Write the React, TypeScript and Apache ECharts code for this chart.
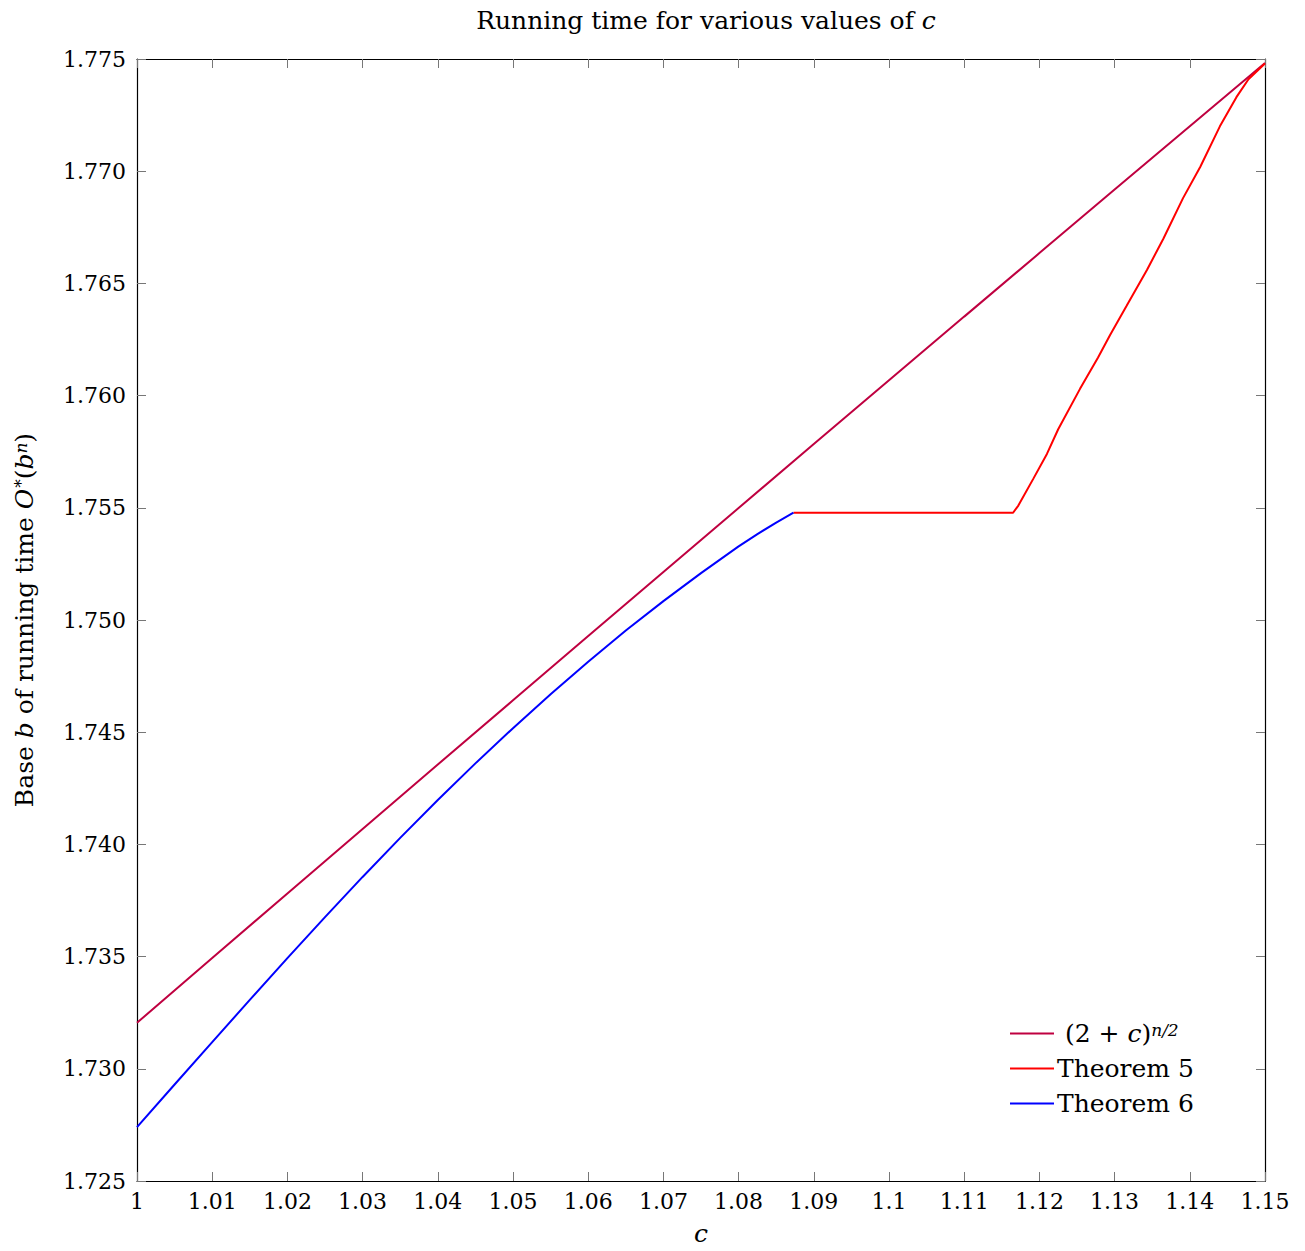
import React, { useEffect, useRef } from "react";
import * as echarts from "echarts";

// (2 + c)^{n/2} base values
const baseC = [1.0, 1.01, 1.02, 1.03, 1.04, 1.05, 1.06, 1.07, 1.08, 1.09, 1.1, 1.11, 1.12, 1.13, 1.14, 1.15];
const baseB = [1.73205, 1.73494, 1.73781, 1.74069, 1.74356, 1.74642, 1.74929, 1.75214, 1.75499, 1.75784, 1.76068, 1.76352, 1.76635, 1.76918, 1.772, 1.77482];

// Theorem 5
const thm5C = [1.0873, 1.1165, 1.1172, 1.1192, 1.121, 1.1225, 1.1254, 1.1278, 1.1294, 1.1316, 1.1343, 1.1365, 1.1391, 1.1414, 1.144, 1.1462, 1.1478, 1.15];
const thm5B = [1.75478, 1.75478, 1.7551, 1.7563, 1.7574, 1.7585, 1.7603, 1.7617, 1.7627, 1.764, 1.7656, 1.767, 1.7688, 1.7702, 1.772, 1.7733, 1.7741, 1.7748];

// Theorem 6
const thm6C = [1.0, 1.005, 1.01, 1.015, 1.02, 1.025, 1.03, 1.035, 1.04, 1.045, 1.05, 1.055, 1.06, 1.065, 1.07, 1.075, 1.08, 1.0825, 1.085, 1.0873];
const thm6B = [1.7274, 1.7293, 1.73119, 1.73307, 1.73493, 1.73676, 1.73855, 1.74029, 1.74198, 1.74361, 1.74518, 1.74669, 1.74814, 1.74953, 1.75084, 1.75209, 1.75328, 1.75383, 1.75434, 1.75478];

const seriesNames = ["(2 + c)^{n/2}", "Theorem 5", "Theorem 6"];
const seriesColors = ["#bf0040", "#ff0000", "#0000ff"];

const X_MIN = 1;
const X_MAX = 1.15;
const X_STEP = 0.01;
const Y_MIN = 1.725;
const Y_MAX = 1.775;
const Y_STEP = 0.005;

const FONT = "DejaVu Serif";
const FS_TICK = 22;
const FS_TEXT = 25;
const FS_LEG = 25;

const zip = (xs: number[], ys: number[]) => xs.map((x, i) => [x, ys[i]]);

const makeRich = (fs: number) => ({
  n: { fontFamily: FONT, fontSize: fs, color: "#000" },
  i: { fontFamily: FONT, fontSize: fs, fontStyle: "italic", color: "#000" },
  s: { fontFamily: FONT, fontSize: Math.round(fs * 0.68), color: "#000", verticalAlign: "top", padding: [0, 0, 0, 1] },
  si: { fontFamily: FONT, fontSize: Math.round(fs * 0.68), fontStyle: "italic", color: "#000", verticalAlign: "top" },
});

export default function App() {
  const ref = useRef<HTMLDivElement>(null);
  useEffect(() => {
    document.body.style.margin = "0";
    const chart = echarts.init(ref.current!, null, { renderer: "svg" });
    const tickStyle = { color: "#777", width: 1 };
    const axisLine = { show: true, onZero: false, lineStyle: { color: "#000", width: 1.2 } };
    const xCommon = {
      type: "value",
      min: X_MIN,
      max: X_MAX,
      interval: X_STEP,
      splitLine: { show: false },
      axisLine,
      axisTick: { show: true, inside: true, length: 9, lineStyle: tickStyle },
    };
    const yCommon = {
      type: "value",
      min: Y_MIN,
      max: Y_MAX,
      interval: Y_STEP,
      splitLine: { show: false },
      axisLine,
      axisTick: { show: true, inside: true, length: 9, lineStyle: tickStyle },
    };
    chart.setOption({
      animation: false,
      backgroundColor: "#fff",
      title: {
        text: "{n|Running time for various values of }{i|c}",
        left: 701,
        textAlign: "center",
        top: 3,
        textStyle: { rich: makeRich(FS_TEXT), fontFamily: FONT, fontSize: FS_TEXT, fontWeight: "normal", color: "#000" },
      },
      grid: { left: 137, top: 59, width: 1128, height: 1128, containLabel: false },
      legend: {
        orient: "vertical",
        left: 1005,
        top: 1016,
        icon: "rect",
        itemWidth: 44,
        itemHeight: 2,
        itemGap: 10,
        data: seriesNames,
        formatter: (name: string) =>
          name === seriesNames[0] ? "{n| (2 + }{i|c}{n|)}{si|n/2}" : "{n|" + name + "}",
        textStyle: { rich: makeRich(FS_LEG), fontFamily: FONT, fontSize: FS_LEG, color: "#000", padding: [0, 0, 0, -2] },
      },
      xAxis: [
        {
          ...xCommon,
          position: "bottom",
          axisLabel: {
            show: true,
            color: "#000",
            fontFamily: FONT,
            fontSize: FS_TICK,
            margin: 9,
            formatter: (v: number) => String(parseFloat(v.toFixed(2))),
          },
          name: "c",
          nameLocation: "middle",
          nameGap: 40,
          nameTextStyle: { fontFamily: FONT, fontSize: FS_TEXT, fontStyle: "italic", color: "#000" },
        },
        { ...xCommon, position: "top", axisLabel: { show: false } },
      ],
      yAxis: [
        {
          ...yCommon,
          position: "left",
          axisLabel: {
            show: true,
            color: "#000",
            fontFamily: FONT,
            fontSize: FS_TICK,
            margin: 11,
            formatter: (v: number) => v.toFixed(3),
          },
          name: "{n|Base }{i|b}{n| of running time }{i|O}{s|*}{n|(}{i|b}{si|n}{n|)}",
          nameLocation: "middle",
          nameGap: 100,
          nameRotate: 90,
          nameTextStyle: { rich: makeRich(FS_TEXT), fontFamily: FONT, fontSize: FS_TEXT, color: "#000" },
        },
        { ...yCommon, position: "right", axisLabel: { show: false } },
      ],
      series: [
        { name: seriesNames[0], data: zip(baseC, baseB) },
        { name: seriesNames[1], data: zip(thm5C, thm5B) },
        { name: seriesNames[2], data: zip(thm6C, thm6B) },
      ].map((s, i) => ({
        ...s,
        type: "line",
        xAxisIndex: 0,
        yAxisIndex: 0,
        showSymbol: false,
        symbol: "none",
        smooth: false,
        color: seriesColors[i],
        lineStyle: { color: seriesColors[i], width: 2 },
      })),
    });
    return () => chart.dispose();
  }, []);
  return <div ref={ref} style={{ width: 1305, height: 1251 }} />;
}
